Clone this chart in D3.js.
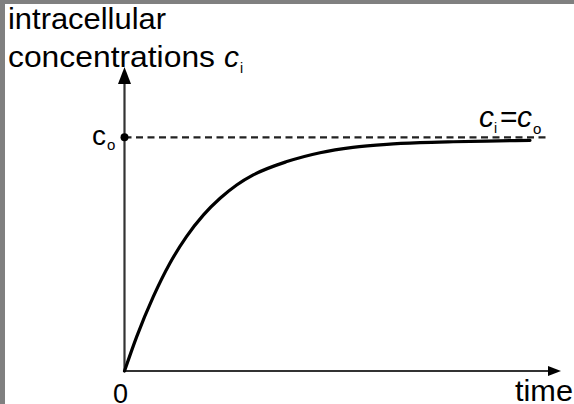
<!DOCTYPE html>
<html>
<head>
<meta charset="utf-8">
<script src="https://cdn.jsdelivr.net/npm/d3@7"></script>
<style>
  html, body { margin: 0; padding: 0; background: #fff; }
  svg { display: block; font-family: "Liberation Sans", Arial, sans-serif; }
</style>
</head>
<body>
<svg id="chart" width="574" height="404"></svg>
<script>
// ---- data ----
const timeValues = [0, 0.28, 0.66, 1.04, 1.42, 1.81, 2.19, 2.57, 2.95, 3.72, 4.48, 5.23, 6.01, 6.77, 7.53, 8.30, 9.29];
const concValues = [0, 0.147, 0.318, 0.461, 0.575, 0.668, 0.739, 0.796, 0.839, 0.896, 0.934, 0.957, 0.970, 0.977, 0.981, 0.984, 0.987];
const equilibriumValue = 1;     // c_o level
const equilibriumEnd = 9.7;     // where the dashed line ends (time units)
const xTickLabels = ["0"];
const yAxisTitle = ["intracellular", "concentrations"];
const xAxisTitle = "time";

// ---- layout ----
const svg = d3.select("#chart");
const W = 574, H = 404;
const x = d3.scaleLinear().domain([0, 10]).range([124.5, 561]);
const y = d3.scaleLinear().domain([0, 1]).range([371, 137.3]);

svg.append("rect").attr("width", W).attr("height", H).attr("fill", "#fff");
// gray frame (left and top)
svg.append("rect").attr("x", 0).attr("y", 0).attr("width", 5).attr("height", H).attr("fill", "#808080");
svg.append("rect").attr("x", 0).attr("y", 0).attr("width", W).attr("height", 4).attr("fill", "#808080");

const axisColor = "#333";
const x0 = x(0), y0 = y(0);

// y axis with arrow
svg.append("line").attr("x1", x0).attr("x2", x0).attr("y1", y0 + 1).attr("y2", 80)
  .attr("stroke", axisColor).attr("stroke-width", 2.2);
svg.append("path")
  .attr("d", `M${x0},67 L${x0 - 6.5},84 L${x0 + 6.5},84 Z`)
  .attr("fill", "#000");

// x axis with arrow
svg.append("line").attr("x1", x0 - 1).attr("x2", 552).attr("y1", y0).attr("y2", y0)
  .attr("stroke", axisColor).attr("stroke-width", 2.2);
svg.append("path")
  .attr("d", `M${x(10)},${y0} L${x(10) - 13},${y0 - 5} L${x(10) - 13},${y0 + 5} Z`)
  .attr("fill", "#000");

// dashed equilibrium line
svg.append("line")
  .attr("x1", x0).attr("x2", x(equilibriumEnd))
  .attr("y1", y(equilibriumValue)).attr("y2", y(equilibriumValue))
  .attr("stroke", "#222").attr("stroke-width", 2.2)
  .attr("stroke-dasharray", "7,4.5");

// dot on axis at c_o
svg.append("circle").attr("cx", x0).attr("cy", y(equilibriumValue)).attr("r", 4).attr("fill", "#000");

// curve
const data = timeValues.map((t, i) => ({ t, c: concValues[i] }));
const line = d3.line().x(d => x(d.t)).y(d => y(d.c)).curve(d3.curveMonotoneX);
svg.append("path").datum(data).attr("d", line)
  .attr("fill", "none").attr("stroke", "#000").attr("stroke-width", 3.2)
  .attr("stroke-linecap", "round");

// ---- texts ----
const fs = 30;
const ink = "#000";
svg.append("text").attr("x", 8).attr("y", 29).attr("font-size", fs)
  .attr("textLength", 158).attr("lengthAdjust", "spacingAndGlyphs")
  .attr("fill", ink).text(yAxisTitle[0]);
svg.append("text").attr("x", 8).attr("y", 67).attr("font-size", fs)
  .attr("textLength", 207).attr("lengthAdjust", "spacingAndGlyphs")
  .attr("fill", ink).text(yAxisTitle[1]);
svg.append("text").attr("x", 224).attr("y", 67).attr("font-size", fs)
  .attr("font-style", "italic").attr("fill", ink).text("c");
svg.append("text").attr("x", 240).attr("y", 73).attr("font-size", 14)
  .attr("fill", ink).text("i");

// tick label c_o
svg.append("text").attr("x", 92).attr("y", 145).attr("font-size", 28)
  .attr("fill", ink).text("c");
svg.append("text").attr("x", 107).attr("y", 150).attr("font-size", 15)
  .attr("fill", ink).text("o");

// x tick label 0
svg.selectAll("text.xtick").data(xTickLabels).enter().append("text")
  .attr("class", "xtick").attr("x", x0 - 4).attr("y", 403)
  .attr("text-anchor", "middle").attr("font-size", 27).attr("fill", ink)
  .text(d => d);

// x axis title
svg.append("text").attr("x", 515).attr("y", 401).attr("font-size", fs)
  .attr("textLength", 58).attr("lengthAdjust", "spacingAndGlyphs")
  .attr("fill", ink).text(xAxisTitle);

// equilibrium label c_i = c_o
const lab = svg.append("g");
lab.append("text").attr("x", 479).attr("y", 127).attr("font-size", fs)
  .attr("font-style", "italic").attr("fill", ink).text("c");
lab.append("text").attr("x", 494).attr("y", 133).attr("font-size", 14)
  .attr("fill", ink).text("i");
lab.append("text").attr("x", 500).attr("y", 127).attr("font-size", fs)
  .attr("fill", ink).text("=");
lab.append("text").attr("x", 517).attr("y", 127).attr("font-size", fs)
  .attr("font-style", "italic").attr("fill", ink).text("c");
lab.append("text").attr("x", 533).attr("y", 134).attr("font-size", 15)
  .attr("fill", ink).text("o");
</script>
</body>
</html>
